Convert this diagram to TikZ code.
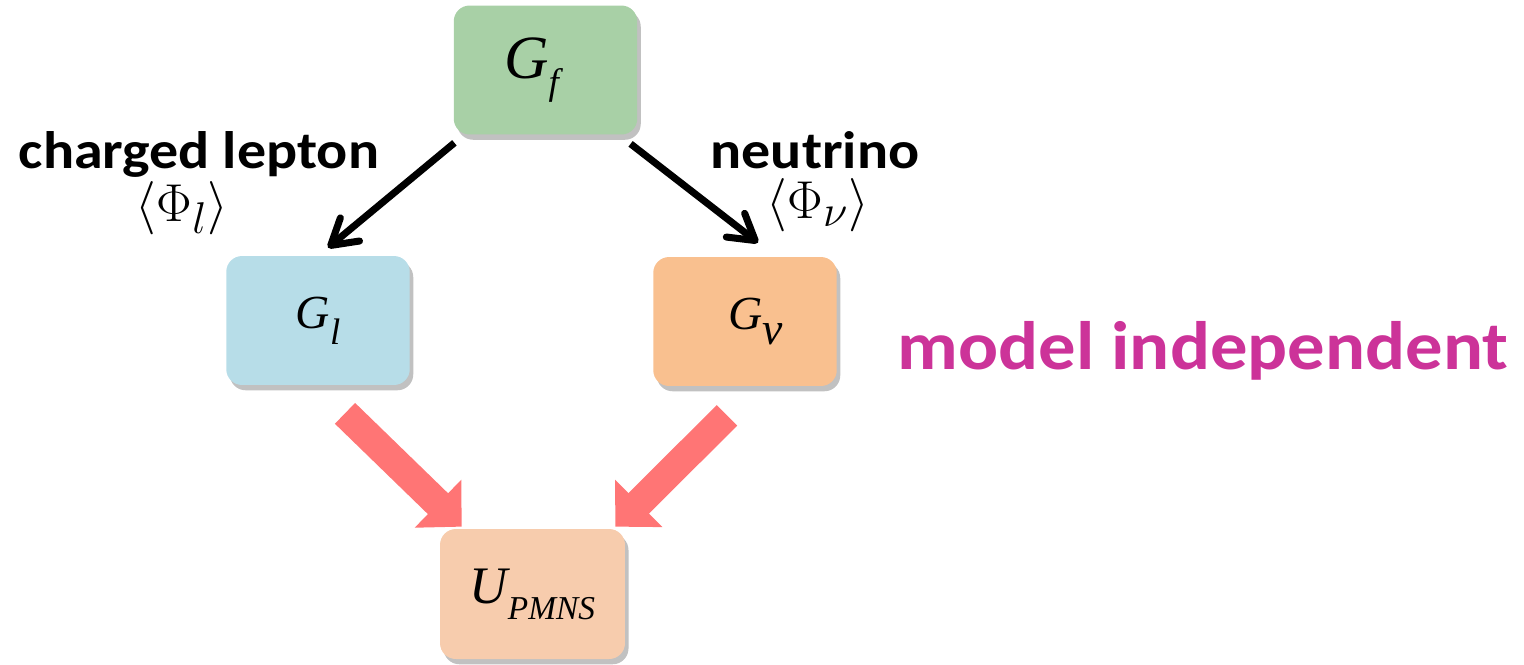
\documentclass[tikz,border=0pt]{standalone}
\usepackage{fontspec}
\usepackage{amsmath}
\usepackage{tikz}
\usetikzlibrary{positioning, arrows.meta, shadows}
\setsansfont{Carlito}
\newfontfamily\tms{Liberation Serif}
\definecolor{boxgreen}{RGB}{168,208,166}
\definecolor{boxblue}{RGB}{183,221,232}
\definecolor{boxorange}{RGB}{249,192,143}
\definecolor{boxpeach}{RGB}{247,204,173}
\definecolor{fatred}{RGB}{255,117,117}
\definecolor{labelpink}{RGB}{204,51,153}
% group symbol with a big lowered subscript
\newcommand{\grp}[5]{{\tms\itshape\fontsize{#1}{#1}\selectfont #2\raisebox{-#5}{\fontsize{#3}{#3}\selectfont #4}}}

\begin{document}
\begin{tikzpicture}[
    x=0.02cm, y=-0.02cm,
    grpbox/.style={
      rounded corners=9pt, minimum width=3.67cm, minimum height=2.58cm,
      inner sep=0pt,
      drop shadow={shadow xshift=2pt, shadow yshift=-3pt, opacity=0.35, fill=black!70}
    },
    side/.style={inner sep=0pt, font=\sffamily\bfseries\fontsize{30}{30}\selectfont},
    vev/.style={inner sep=0pt, font=\fontsize{24.88}{25}\selectfont},
    thin arrow/.style={line width=4pt, -{Straight Barb[round, length=0.5cm, width=0.6cm]}},
    fat arrow/.style={fatred, line width=0.58cm, -{Triangle[length=0.66cm, width=1.3cm]}},
  ]
    \useasboundingbox (0,0) rectangle (1524,664);

    \node[grpbox, fill=boxgreen] (Gf) at (545.5,70) {\grp{35pt}{G}{21pt}{f}{9pt}\hspace*{16pt}};
    \node[grpbox, fill=boxblue] (Gl) at (318,320.5) {\grp{27pt}{G}{21pt}{l}{9pt}};
    \node[grpbox, fill=boxorange] (Gnu) at (745,321.5) {\hspace*{12pt}\grp{27pt}{G}{26pt}{ν}{9pt}};
    \node[grpbox, fill=boxpeach, minimum width=3.7cm, minimum height=2.6cm] (U) at (532.5,594) {\grp{30pt}{U}{19pt}{PMNS}{9pt}};

    \node[side, anchor=base] (lep) at (199,168) {\scalebox{1.1}[1]{charged lepton}};
    \node[vev, anchor=base] (vevl) at (182,221) {\scalebox{1.22}{$\langle\Phi_l\rangle$}};
    \node[side, anchor=base] (neu) at (815,168) {\scalebox{1.1}[1]{neutrino}};
    \node[vev, anchor=base] (vevnu) at (818,218) {\scalebox{1.22}{$\langle\Phi_\nu\rangle$}};
    \node[inner sep=0pt, font=\sffamily\bfseries\fontsize{39}{39}\selectfont, text=labelpink, anchor=base] (mi) at (1203,369) {\scalebox{1.09}[1]{model independent}};

    \draw[thin arrow] ([shift={(1,8)}]Gf.south west) -- ([shift={(10,-8)}]Gl.north);
    \draw[thin arrow] ([shift={(-7,9)}]Gf.south east) -- ([shift={(13,-14)}]Gnu.north);

    \draw[fat arrow] ([shift={(27,28)}]Gl.south) -- ([shift={(22,-2)}]U.north west);
    \draw[fat arrow] ([shift={(-18,29)}]Gnu.south) -- ([shift={(-10,-2)}]U.north east);
  \end{tikzpicture}
\end{document}
